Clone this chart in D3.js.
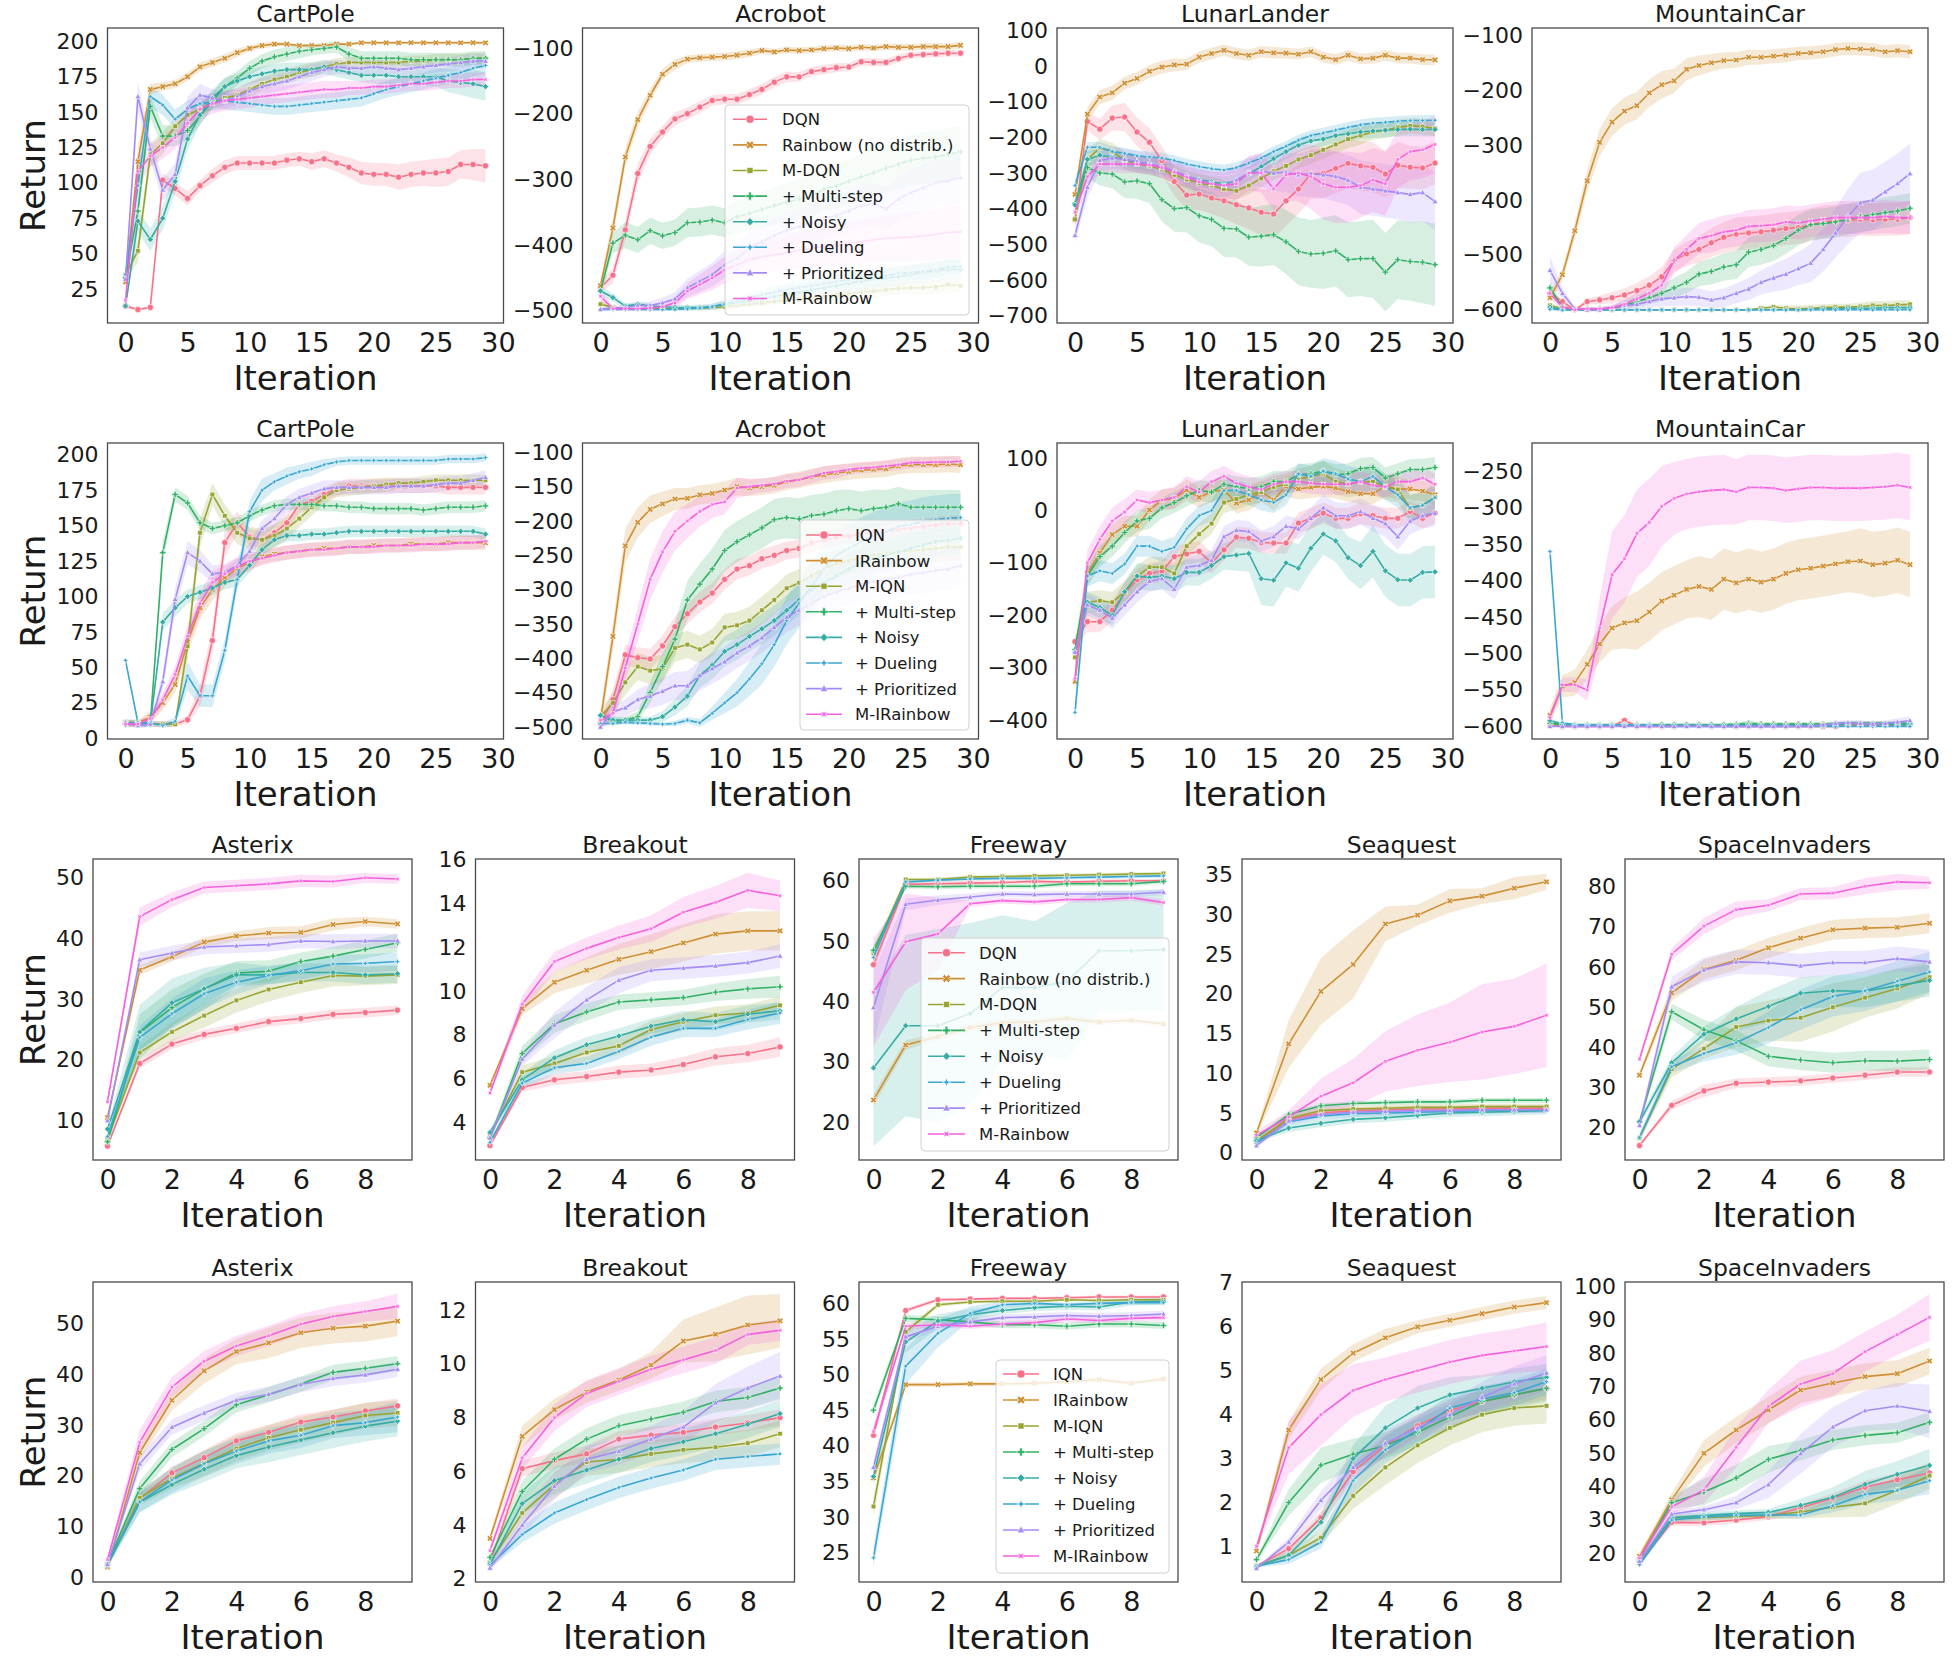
<!DOCTYPE html>
<html><head><meta charset="utf-8">
<script src="https://cdn.jsdelivr.net/npm/d3@7"></script>
<style>
body{margin:0;background:#fff}
svg text{font-family:"DejaVu Sans",sans-serif;fill:#1a1a1a}
</style>
</head><body>
<svg id="fig" width="1956" height="1660"></svg>
<script>
// ---------------- categories ----------------
const seriesDQN = ["DQN","Rainbow (no distrib.)","M-DQN","+ Multi-step","+ Noisy","+ Dueling","+ Prioritized","M-Rainbow"];
const seriesIQN = ["IQN","IRainbow","M-IQN","+ Multi-step","+ Noisy","+ Dueling","+ Prioritized","M-IRainbow"];
const classicEnvs = ["CartPole","Acrobot","LunarLander","MountainCar"];
const atariEnvs = ["Asterix","Breakout","Freeway","Seaquest","SpaceInvaders"];
const classicXTicks = [0,5,10,15,20,25,30];
const atariXTicks = [0,2,4,6,8];

// ---------------- tick labels ----------------
const cartpoleDQNTicks = [25,50,75,100,125,150,175,200];
const acrobotDQNTicks = [-500,-400,-300,-200,-100];
const lunarDQNTicks = [-700,-600,-500,-400,-300,-200,-100,0,100];
const mountainDQNTicks = [-600,-500,-400,-300,-200,-100];
const cartpoleIQNTicks = [0,25,50,75,100,125,150,175,200];
const acrobotIQNTicks = [-500,-450,-400,-350,-300,-250,-200,-150,-100];
const lunarIQNTicks = [-400,-300,-200,-100,0,100];
const mountainIQNTicks = [-600,-550,-500,-450,-400,-350,-300,-250];
const asterixDQNTicks = [10,20,30,40,50];
const breakoutDQNTicks = [4,6,8,10,12,14,16];
const freewayDQNTicks = [20,30,40,50,60];
const seaquestDQNTicks = [0,5,10,15,20,25,30,35];
const invadersDQNTicks = [20,30,40,50,60,70,80];
const asterixIQNTicks = [0,10,20,30,40,50];
const breakoutIQNTicks = [2,4,6,8,10,12];
const freewayIQNTicks = [25,30,35,40,45,50,55,60];
const seaquestIQNTicks = [1,2,3,4,5,6,7];
const invadersIQNTicks = [20,30,40,50,60,70,80,90,100];

// ---------------- series values (mean) ----------------
const cartpoleDQN = [
 [13,10.5,12,102,96,89,98,105,111,114,114,114,114,116,117,115,117,114,111,107,106,106,104,106,107,107,108,113,113,112],
 [30,115,166,168,170,175,182,185,188,192,195,197,198,198,197,197,197,198,198,199,199,199,199,199,199,199,199,199,199,199],
 [35,52,120,128,140,148,152,157,160,162,166,170,173,175,178,180,182,184,185,185,185,185,185,186,186,187,187,187,188,188],
 [33,80,154,133,133,137,147,158,168,174,181,186,189,191,193,194,195,196,191,188,188,188,188,187,187,187,187,187,188,188],
 [13,73,60,75,101,131,148,160,168,172,175,177,179,180,180,180,182,180,178,176,176,176,175,175,175,175,172,171,170,168],
 [35,98,161,155,145,152,156,157,158,157,156,155,154,154,155,156,157,158,159,160,163,166,168,170,172,174,176,178,181,183],
 [32,161,124,95,106,153,162,160,158,161,165,168,170,172,175,178,180,182,181,181,182,181,180,181,182,183,184,185,186,186],
 [17,108,119,125,132,142,152,156,158,159,160,161,162,163,164,165,166,166,167,167,168,168,169,170,170,171,172,172,173,173]
];
const acrobotDQN = [
 [-465,-446,-377,-291,-250,-228,-208,-200,-190,-180,-178,-178,-171,-163,-152,-144,-144,-136,-133,-130,-129,-121,-122,-122,-116,-111,-110,-109,-108,-108],
 [-462,-374,-266,-209,-172,-140,-125,-117,-115,-114,-113,-111,-108,-104,-106,-103,-104,-103,-101,-100,-101,-99,-100,-98,-99,-99,-98,-98,-98,-96],
 [-490,-495,-497,-497,-497,-497,-497,-496,-496,-495,-494,-492,-490,-488,-486,-484,-482,-480,-478,-476,-474,-472,-470,-468,-466,-465,-465,-464,-460,-462],
 [-470,-397,-385,-392,-378,-386,-381,-366,-365,-362,-366,-357,-352,-346,-340,-335,-330,-325,-315,-310,-303,-296,-290,-283,-277,-271,-268,-266,-262,-258],
 [-470,-480,-493,-490,-493,-494,-495,-495,-495,-494,-490,-488,-485,-482,-478,-475,-472,-468,-465,-462,-458,-455,-452,-450,-448,-445,-442,-440,-437,-437],
 [-498,-498,-498,-498,-498,-498,-498,-497,-496,-494,-490,-486,-480,-476,-472,-468,-465,-462,-459,-456,-453,-450,-450,-447,-443,-442,-440,-438,-433,-433],
 [-498,-496,-495,-492,-492,-488,-482,-465,-455,-445,-430,-420,-405,-395,-385,-378,-372,-365,-360,-355,-348,-340,-337,-345,-330,-320,-313,-305,-302,-297],
 [-478,-497,-497,-497,-496,-494,-488,-470,-460,-450,-438,-430,-422,-418,-415,-412,-408,-405,-402,-400,-397,-395,-392,-390,-389,-388,-386,-384,-381,-380]
];
const lunarDQN = [
 [-430,-156,-177,-146,-143,-185,-214,-266,-324,-362,-359,-370,-378,-389,-398,-410,-415,-378,-345,-303,-301,-287,-273,-280,-284,-303,-278,-284,-286,-272],
 [-360,-135,-87,-75,-48,-35,-15,-3,3,5,25,35,44,35,30,40,37,36,33,40,25,18,30,20,22,30,22,22,18,17],
 [-430,-262,-230,-240,-265,-275,-280,-290,-305,-318,-328,-335,-345,-350,-335,-315,-295,-280,-262,-250,-235,-220,-205,-195,-185,-180,-172,-168,-170,-175],
 [-385,-285,-300,-303,-325,-322,-330,-375,-400,-397,-420,-430,-455,-457,-480,-477,-473,-493,-520,-527,-525,-518,-543,-540,-540,-578,-543,-548,-550,-557],
 [-390,-262,-250,-255,-262,-270,-275,-285,-297,-310,-318,-325,-330,-322,-302,-282,-260,-240,-222,-210,-205,-195,-190,-185,-182,-180,-178,-177,-178,-178],
 [-335,-228,-228,-240,-245,-252,-255,-258,-265,-275,-282,-288,-292,-285,-272,-258,-240,-225,-208,-195,-188,-180,-172,-165,-160,-158,-155,-153,-153,-152],
 [-475,-340,-265,-258,-262,-268,-275,-282,-295,-308,-320,-330,-335,-320,-300,-295,-300,-298,-305,-302,-305,-310,-320,-340,-345,-350,-355,-360,-355,-380],
 [-410,-310,-275,-275,-275,-275,-278,-285,-298,-312,-325,-330,-335,-330,-300,-300,-345,-305,-300,-310,-330,-340,-340,-335,-320,-330,-262,-240,-235,-220]
];
const mountainDQN = [
 [-570,-585,-600,-585,-582,-578,-573,-565,-555,-540,-510,-498,-490,-478,-468,-462,-460,-458,-455,-452,-450,-445,-440,-438,-437,-435,-436,-435,-435,-432],
 [-578,-536,-456,-365,-295,-258,-238,-228,-205,-190,-183,-162,-155,-150,-146,-145,-140,-140,-138,-136,-133,-132,-130,-126,-124,-125,-126,-130,-128,-130],
 [-592,-598,-600,-600,-600,-600,-600,-600,-600,-600,-600,-600,-600,-600,-600,-600,-600,-597,-595,-597,-598,-597,-596,-595,-595,-594,-592,-592,-591,-590],
 [-560,-595,-600,-598,-598,-598,-592,-585,-578,-570,-560,-550,-535,-530,-522,-518,-495,-490,-483,-470,-455,-445,-443,-440,-435,-430,-427,-423,-420,-415],
 [-595,-600,-600,-600,-600,-600,-600,-600,-600,-600,-600,-600,-600,-600,-600,-600,-600,-600,-600,-600,-600,-599,-598,-598,-597,-597,-597,-596,-596,-596],
 [-599,-600,-600,-600,-600,-600,-600,-600,-600,-600,-600,-600,-600,-600,-600,-600,-600,-600,-600,-600,-600,-600,-600,-600,-600,-600,-600,-600,-600,-600],
 [-528,-570,-598,-600,-600,-596,-592,-590,-585,-580,-578,-576,-577,-582,-578,-570,-562,-550,-542,-535,-525,-515,-490,-460,-430,-405,-400,-385,-370,-352],
 [-570,-595,-600,-598,-598,-596,-590,-580,-570,-555,-510,-490,-470,-465,-458,-455,-448,-447,-445,-440,-442,-438,-435,-432,-432,-432,-432,-430,-432,-432]
];
const cartpoleIQN = [
 [11,10,10,10,10,13,30,69,138,152,142,140,145,152,165,167,172,176,178,178,178,178,178,178,178,178,177,177,177,177],
 [11,11,15,25,38,68,92,105,113,120,124,128,130,131,132,133,134,134,135,135,136,136,136,137,137,137,138,138,138,138],
 [11,11,10,10,10,65,145,172,157,145,141,140,143,148,155,163,170,175,176,177,178,179,180,180,181,182,182,182,182,182],
 [10,10,10,131,172,166,152,148,150,152,157,161,164,165,165,165,164,164,163,163,162,162,162,162,161,162,163,163,163,164],
 [11,11,10,82,92,100,103,106,110,112,122,133,140,143,143,144,144,145,146,146,146,146,146,146,146,146,146,146,146,144],
 [55,11,11,9,12,44,30,30,62,112,160,175,181,185,188,190,193,195,196,196,196,196,196,196,196,196,197,197,197,198],
 [11,9,10,40,98,131,125,116,117,122,132,148,155,165,170,173,176,177,177,177,177,177,178,178,178,179,180,180,182,184],
 [10,10,14,27,45,72,95,110,116,121,125,127,129,131,132,133,133,134,135,135,135,136,136,136,137,137,137,138,138,139]
];
const acrobotIQN = [
 [-495,-460,-395,-399,-401,-382,-354,-335,-318,-305,-285,-270,-265,-255,-250,-243,-240,-232,-228,-224,-222,-218,-216,-215,-212,-210,-208,-206,-204,-204],
 [-490,-368,-236,-202,-183,-175,-168,-167,-162,-160,-155,-150,-152,-150,-148,-143,-140,-136,-133,-130,-128,-126,-125,-124,-120,-118,-118,-118,-117,-118],
 [-485,-465,-435,-412,-418,-415,-385,-380,-387,-377,-355,-352,-345,-330,-315,-298,-290,-280,-270,-262,-258,-253,-250,-247,-245,-243,-242,-240,-238,-238],
 [-483,-492,-490,-485,-450,-412,-372,-315,-292,-270,-243,-230,-220,-210,-198,-195,-197,-192,-190,-185,-182,-185,-182,-180,-175,-180,-180,-180,-180,-180],
 [-483,-490,-490,-490,-490,-485,-471,-455,-425,-410,-390,-380,-368,-357,-345,-330,-315,-300,-290,-280,-270,-262,-255,-250,-245,-240,-235,-230,-228,-225],
 [-495,-495,-493,-494,-495,-496,-495,-490,-494,-480,-465,-450,-430,-408,-380,-345,-320,-295,-270,-250,-240,-230,-222,-215,-208,-205,-200,-198,-196,-195],
 [-500,-478,-472,-460,-455,-448,-440,-440,-425,-415,-405,-392,-382,-370,-355,-340,-330,-320,-310,-303,-298,-292,-288,-285,-282,-278,-275,-272,-270,-265],
 [-490,-480,-414,-350,-285,-245,-215,-200,-186,-176,-172,-152,-150,-148,-146,-142,-140,-135,-130,-128,-125,-123,-122,-120,-118,-115,-115,-114,-114,-113]
];
const lunarIQN = [
 [-250,-212,-212,-190,-158,-132,-120,-116,-88,-83,-78,-100,-75,-51,-53,-61,-62,-62,-24,-15,-5,-15,-15,-6,-10,-15,-15,-2,-15,-5],
 [-326,-120,-81,-46,-30,-30,1,20,23,39,25,36,39,14,20,36,20,46,41,44,46,43,36,32,32,46,41,41,37,30],
 [-280,-175,-172,-175,-155,-125,-108,-108,-120,-68,-45,-25,15,22,30,35,45,50,60,65,70,55,50,55,55,45,40,5,10,25],
 [-265,-125,-88,-68,-42,-20,-15,5,15,28,38,35,50,45,42,45,55,55,68,70,75,68,70,80,82,62,70,78,78,82],
 [-270,-175,-185,-200,-155,-125,-128,-125,-130,-118,-118,-105,-88,-85,-82,-130,-133,-100,-110,-72,-45,-58,-90,-105,-78,-115,-132,-133,-118,-117],
 [-385,-125,-115,-120,-102,-68,-68,-78,-70,-35,-10,0,38,38,30,20,15,30,70,65,75,70,60,55,65,45,30,5,10,25],
 [-270,-180,-190,-205,-180,-155,-135,-130,-150,-108,-105,-95,-50,-38,-40,-58,-50,-30,-35,-15,5,-10,-10,-2,-15,-25,-50,-20,-10,-5],
 [-320,-100,-55,-20,-3,20,15,20,25,45,35,55,65,52,45,40,50,55,55,52,50,50,50,55,48,45,55,55,62,50]
];
const mountainIQN = [
 [-598,-600,-600,-600,-600,-600,-592,-600,-600,-600,-600,-598,-598,-600,-600,-600,-600,-600,-600,-600,-600,-600,-600,-600,-598,-598,-598,-598,-598,-598],
 [-585,-545,-540,-515,-487,-465,-458,-455,-443,-428,-420,-412,-408,-412,-398,-403,-398,-402,-398,-390,-385,-383,-380,-377,-374,-373,-378,-376,-372,-378],
 [-595,-598,-598,-598,-598,-598,-598,-598,-598,-598,-598,-598,-598,-598,-598,-598,-597,-597,-597,-597,-597,-597,-597,-597,-596,-596,-596,-596,-596,-596],
 [-596,-598,-598,-598,-598,-598,-598,-598,-598,-598,-598,-598,-598,-598,-598,-597,-596,-597,-597,-597,-597,-597,-597,-596,-596,-596,-597,-597,-597,-597],
 [-592,-597,-598,-598,-598,-598,-598,-598,-598,-598,-598,-598,-598,-598,-598,-598,-598,-598,-598,-598,-598,-598,-598,-598,-596,-596,-596,-596,-596,-596],
 [-360,-595,-598,-598,-598,-598,-598,-598,-598,-600,-600,-600,-600,-600,-600,-600,-600,-600,-600,-600,-600,-600,-600,-600,-600,-600,-600,-600,-600,-600],
 [-600,-600,-600,-600,-600,-600,-600,-600,-600,-600,-600,-600,-600,-600,-600,-600,-600,-600,-600,-600,-600,-600,-598,-596,-595,-596,-597,-596,-594,-592],
 [-588,-543,-543,-550,-465,-392,-370,-335,-320,-298,-287,-281,-278,-276,-275,-278,-272,-272,-273,-276,-274,-272,-272,-273,-273,-273,-272,-271,-269,-272]
];
const asterixDQN = [
 [5.8,19.4,22.6,24.2,25.2,26.3,26.8,27.5,27.8,28.2],
 [10.5,34.8,37.0,39.4,40.4,40.9,41.0,42.3,42.8,42.4],
 [7.0,21.2,24.6,27.3,29.8,31.6,32.8,33.9,33.8,34.0],
 [6.5,24.5,28.6,31.7,34.3,34.6,36.2,37.1,38.2,39.3],
 [8.6,24.6,29.4,31.7,34.0,34.0,34.4,34.4,34.0,34.2],
 [7.4,23.7,27.6,30.9,32.8,33.9,34.7,35.8,35.9,36.2],
 [10.0,36.5,37.6,38.6,38.8,39.0,39.6,39.5,39.6,39.6],
 [13.1,43.6,46.4,48.4,48.7,49.0,49.5,49.4,50.0,49.8]
];
const breakoutDQN = [
 [2.95,5.6,5.95,6.1,6.3,6.4,6.65,7.0,7.15,7.45],
 [5.7,9.2,10.4,10.95,11.45,11.8,12.2,12.6,12.75,12.75],
 [3.4,6.3,6.7,7.2,7.5,8.25,8.6,8.9,9.0,9.35],
 [3.3,7.15,8.5,9.05,9.5,9.6,9.7,9.95,10.1,10.2],
 [3.55,5.95,6.95,7.55,7.95,8.4,8.7,8.6,8.95,9.1],
 [3.1,5.8,6.5,6.7,7.25,7.9,8.3,8.3,8.7,9.0],
 [3.3,6.9,8.45,9.6,10.5,10.95,11.05,11.15,11.3,11.6],
 [5.35,9.4,11.35,11.95,12.45,12.85,13.6,14.05,14.6,14.35]
];
const freewayDQN = [
 [46.1,59.4,59.5,59.6,59.7,59.9,59.8,59.9,60.0,60.0],
 [23.7,32.8,34.2,35.7,36.5,36.6,37.2,36.6,36.9,36.3],
 [48.0,60.2,60.2,60.6,60.7,60.8,60.9,61.0,61.1,61.2],
 [48.5,59.1,59.0,59.1,59.1,59.1,59.5,59.5,59.5,59.9],
 [29.0,36.0,36.0,38.0,42.3,42.3,43.3,48.4,48.4,48.6],
 [47.3,59.8,60.1,60.3,60.4,60.4,60.5,60.6,60.7,60.8],
 [39.0,56.1,56.8,57.3,57.8,57.7,57.8,57.8,57.8,58.1],
 [41.5,49.9,51.2,56.2,56.7,56.5,56.9,56.9,57.2,56.4]
];
const seaquestDQN = [
 [1.4,4.2,5.0,5.3,5.4,5.5,5.5,5.6,5.6,5.6],
 [2.5,13.7,20.3,23.7,28.8,29.9,31.7,32.3,33.3,34.1],
 [1.5,4.3,5.3,5.5,5.6,5.7,5.7,5.8,5.8,5.8],
 [1.9,4.8,5.9,6.2,6.3,6.4,6.4,6.6,6.6,6.6],
 [1.5,3.1,3.7,4.2,4.4,4.7,5.0,5.1,5.2,5.3],
 [1.2,3.9,4.6,4.9,5.0,5.1,5.2,5.3,5.4,5.4],
 [0.9,4.0,4.8,5.1,5.2,5.3,5.3,5.4,5.4,5.4],
 [2.2,4.5,7.1,8.8,11.5,12.9,13.9,15.2,15.9,17.3]
];
const invadersDQN = [
 [15.6,25.6,29.2,31.1,31.4,31.7,32.4,33.1,33.9,33.9],
 [33.1,53.6,59.4,61.7,64.8,67.2,69.3,69.7,69.9,70.9],
 [17.5,34.6,39.7,45.1,46.7,47.4,50.0,52.4,54.7,57.5],
 [21.5,48.9,44.4,41.7,37.8,36.9,36.2,36.7,36.6,37.0],
 [21.5,36.2,43.3,47.1,50.2,53.5,54.1,54.0,55.4,56.7],
 [17.6,35.2,38.5,41.2,45.0,49.4,52.7,54.1,56.5,58.8],
 [20.6,55.1,59.3,61.3,61.1,60.3,61.1,61.1,62.1,61.3],
 [37.1,63.2,70.2,74.3,75.4,78.2,78.4,80.1,81.2,81.0]
];
const asterixIQN = [
 [2.5,15.5,20.6,23.6,26.9,28.6,30.6,31.6,32.8,33.8],
 [2.0,24.6,34.9,40.7,44.5,46.2,48.2,49.1,49.5,50.5],
 [2.3,15.7,19.5,22.5,25.4,27.5,29.1,30.5,31.9,32.4],
 [2.8,17.5,25.2,29.3,34.0,36.0,38.1,40.4,41.2,42.1],
 [2.5,14.8,18.3,21.3,24.0,25.7,27.1,28.5,29.8,30.8],
 [2.7,14.9,19.2,22.4,24.9,26.9,28.0,29.9,30.5,31.6],
 [2.6,22.4,29.6,32.4,34.9,36.1,38.0,39.2,39.9,41.0],
 [3.5,26.6,37.5,42.6,45.6,47.6,49.9,51.4,52.4,53.4]
];
const breakoutIQN = [
 [2.6,6.1,6.4,6.65,7.2,7.35,7.45,7.65,7.8,8.0],
 [3.5,7.3,8.3,8.95,9.4,9.95,10.85,11.1,11.45,11.6],
 [2.6,4.45,5.5,6.35,6.45,6.65,6.8,6.9,7.05,7.4],
 [2.8,5.25,6.45,7.2,7.7,7.95,8.2,8.6,8.75,9.1],
 [2.55,4.8,5.65,6.05,6.45,6.85,7.1,7.4,7.75,8.15],
 [2.5,3.65,4.45,4.95,5.4,5.75,6.05,6.45,6.55,6.65],
 [2.4,4.0,5.45,6.45,6.75,7.2,7.65,8.55,9.1,9.55],
 [3.05,6.5,8.0,8.9,9.35,9.8,10.15,10.5,11.1,11.25]
];
const freewayIQN = [
 [41.5,59.0,60.5,60.6,60.7,60.7,60.8,60.9,60.9,60.9],
 [35.5,48.6,48.6,48.7,48.7,48.8,49.0,49.3,48.8,49.4],
 [31.5,56.0,59.8,60.2,60.3,60.3,60.5,60.4,60.5,60.5],
 [45.0,57.9,57.7,57.4,57.0,57.0,56.8,57.1,57.1,56.9],
 [35.7,54.6,57.5,58.4,59.0,59.4,59.6,59.5,60.2,60.3],
 [24.3,51.2,55.8,58.6,59.8,60.0,59.8,60.0,60.1,60.1],
 [37.0,55.3,56.8,57.4,58.0,58.1,58.3,58.2,58.3,58.5],
 [42.0,56.8,57.0,56.8,57.1,57.3,57.8,57.6,57.9,58.0]
];
const seaquestIQN = [
 [0.55,0.95,1.65,2.7,3.3,3.75,4.1,4.3,4.45,4.6],
 [0.9,3.65,4.8,5.4,5.75,6.0,6.15,6.3,6.45,6.55],
 [0.55,0.8,1.2,2.15,2.8,3.3,3.7,4.0,4.15,4.2],
 [0.7,2.0,2.85,3.1,3.3,3.6,3.95,4.3,4.45,4.6],
 [0.55,0.8,1.55,3.0,3.7,4.15,4.45,4.6,4.75,4.85],
 [0.55,0.7,1.1,2.5,3.2,3.65,4.15,4.35,4.5,4.75],
 [0.5,1.1,2.05,2.8,3.35,3.7,4.0,4.4,4.7,4.95],
 [1.0,3.25,4.0,4.55,4.8,5.0,5.2,5.35,5.45,5.55]
];
const invadersIQN = [
 [17.0,29.2,29.1,29.9,30.9,33.6,36.4,39.7,42.0,44.0],
 [19.0,36.0,49.9,56.9,62.9,68.9,71.0,72.9,73.8,77.6],
 [17.5,30.5,30.6,31.0,31.2,32.3,33.7,34.9,38.8,43.2],
 [18.0,35.1,38.3,42.5,48.1,50.8,53.9,55.3,56.1,59.2],
 [17.5,30.6,31.2,31.8,32.2,34.3,36.7,40.6,43.6,46.3],
 [16.5,29.9,30.8,31.3,31.4,31.4,34.2,37.6,38.8,41.7],
 [17.5,31.7,33.0,35.1,40.5,49.8,57.8,62.7,64.1,62.5],
 [18.5,33.9,38.9,51.7,64.0,70.7,73.8,80.4,85.5,90.7]
];

// ---------------- confidence band half-widths ----------------
const cartpoleDQNBand = [
 [2,1,1,5,5,5,4,5,5,5,5,5,5,5,5,6,6,6,7,8,8,8,9,9,9,10,10,10,11,12],
 [5,10,4,3,3,3,3,3,3,3,2,2,2,1,1,1,1,1,1,1,1,1,1,1,1,1,1,1,1,1],
 [4,8,8,8,6,6,5,5,5,5,5,5,5,5,5,5,4,4,4,4,4,4,4,4,4,4,4,4,4,4],
 [4,8,8,8,7,7,6,6,6,5,5,5,5,5,5,4,4,4,5,5,5,5,5,5,5,5,5,5,5,5],
 [3,8,8,8,8,8,7,6,6,5,5,5,5,5,5,5,5,5,5,5,6,6,6,6,6,7,8,9,10,10],
 [4,10,8,7,7,6,6,6,6,6,6,6,6,6,6,6,6,6,6,6,6,6,6,6,6,6,6,6,6,6],
 [4,10,8,8,8,8,8,6,6,6,6,6,6,6,6,6,5,5,5,5,5,5,5,5,5,5,5,5,5,5],
 [3,10,8,8,8,8,8,7,7,7,7,6,6,6,6,6,6,6,5,5,5,5,5,5,5,5,5,5,5,5]
];
const acrobotDQNBand = [
 [8,12,15,15,12,10,10,9,9,8,8,8,8,8,8,8,7,7,7,7,6,6,6,6,6,5,5,5,5,5],
 [10,15,15,12,10,8,8,6,6,6,6,6,6,5,5,5,5,5,5,5,5,5,5,5,5,5,5,5,5,5],
 [5,3,2,2,2,2,2,2,2,3,3,4,4,5,5,6,6,7,7,8,8,8,9,9,9,10,10,10,10,10],
 [10,15,20,20,20,20,20,22,22,22,22,25,25,28,28,30,30,32,32,34,34,35,36,37,38,39,40,40,40,40],
 [8,6,4,4,4,4,4,4,4,5,6,7,8,9,10,11,12,12,13,14,15,15,15,15,15,15,15,15,15,15],
 [2,2,2,2,2,2,2,3,3,4,5,6,7,8,9,10,10,11,11,12,12,12,12,12,12,12,12,12,12,12],
 [2,3,4,5,6,8,10,14,16,18,20,22,24,25,26,27,28,29,30,30,31,32,32,33,34,35,36,37,38,40],
 [10,3,3,3,4,5,8,12,15,18,20,22,24,25,26,27,28,29,30,31,32,33,34,35,36,37,38,39,40,40]
];
const lunarDQNBand = [
 [20,25,30,35,40,40,40,40,40,40,45,45,50,55,60,65,70,70,70,70,70,70,70,70,70,65,65,60,60,60],
 [15,20,20,20,18,18,18,18,18,16,16,16,16,16,16,16,16,15,15,15,15,15,15,15,15,15,15,15,15,15],
 [20,25,25,25,25,25,25,25,25,25,25,25,25,25,25,25,25,25,25,25,25,25,25,25,22,22,22,22,22,22],
 [25,30,35,40,45,50,55,60,65,70,75,75,80,80,80,85,85,90,95,95,100,100,105,105,110,110,110,110,115,115],
 [20,20,20,20,20,20,20,20,20,20,20,20,20,20,20,20,20,20,20,20,20,20,20,20,20,20,20,20,20,20],
 [20,15,15,15,15,15,15,15,15,15,15,15,15,15,15,15,15,15,15,15,15,15,15,15,15,15,15,15,15,15],
 [20,30,30,30,30,30,30,30,30,30,35,35,35,35,40,45,50,55,60,65,65,70,70,75,75,75,75,80,80,80],
 [20,25,25,25,25,25,25,30,30,30,35,35,40,45,50,55,60,70,80,90,100,100,100,90,90,90,80,80,80,80]
];
const mountainDQNBand = [
 [5,5,3,5,8,10,12,14,16,18,20,22,24,26,28,30,30,30,30,30,30,30,30,30,30,30,30,30,30,30],
 [10,10,15,20,25,25,25,25,25,25,22,20,18,16,15,14,14,13,13,13,12,12,12,12,12,12,12,12,12,12],
 [5,3,1,1,1,1,1,1,1,1,1,1,1,1,1,1,2,3,4,5,6,6,6,6,6,7,8,8,8,8],
 [10,5,3,3,3,5,8,10,12,15,18,20,22,24,25,26,27,28,28,28,28,28,28,28,28,28,28,28,28,28],
 [5,3,1,1,1,1,1,1,1,1,1,1,1,1,1,1,1,1,1,1,1,2,2,2,2,3,3,3,3,3],
 [1,1,1,1,1,1,1,1,1,1,1,1,1,1,1,1,1,1,1,1,1,1,1,1,1,1,1,1,1,1],
 [25,10,3,3,3,5,8,10,12,14,15,16,16,16,17,18,20,22,25,28,30,35,40,45,50,55,55,55,55,55],
 [10,5,3,3,3,5,8,12,16,20,24,26,28,30,30,30,30,30,30,30,30,30,30,30,30,30,30,30,30,30]
];
const cartpoleIQNBand = [
 [2,2,2,2,2,3,8,10,10,8,6,6,6,6,6,5,5,5,5,5,5,5,5,5,5,5,5,5,5,5],
 [2,2,4,5,6,8,8,8,6,6,6,5,5,5,5,5,5,5,5,5,5,5,5,5,5,5,5,5,5,5],
 [2,2,2,2,2,10,10,8,8,8,8,8,8,8,6,6,5,5,5,5,5,5,4,4,4,4,4,4,4,4],
 [2,2,2,8,5,5,5,4,4,4,4,4,4,4,4,4,4,4,4,4,4,4,4,4,4,4,4,4,4,4],
 [2,2,2,6,6,5,5,5,5,5,5,5,5,4,4,4,4,4,4,4,4,4,4,4,4,4,4,4,4,4],
 [2,2,2,2,3,10,8,8,8,8,8,8,6,6,5,5,4,3,3,3,3,3,3,3,3,3,3,3,3,3],
 [2,2,2,6,8,8,8,6,6,6,6,6,6,6,6,6,6,5,5,5,5,5,5,5,5,5,5,5,5,5],
 [2,2,4,5,6,8,8,8,6,6,6,5,5,5,5,5,5,5,5,5,5,5,5,5,5,5,5,5,5,5]
];
const acrobotIQNBand = [
 [8,15,15,15,15,15,15,15,15,15,15,15,14,14,14,13,13,13,12,12,12,12,12,12,12,12,12,12,12,12],
 [15,20,25,22,20,18,16,15,14,14,13,13,12,12,12,12,12,12,12,12,12,12,12,12,12,12,12,12,12,12],
 [10,15,18,20,20,20,20,20,20,20,20,20,20,20,20,20,20,20,20,20,20,20,20,20,20,20,20,20,20,20],
 [5,5,5,8,15,20,25,28,30,30,30,30,30,30,30,30,30,30,30,30,28,28,28,25,25,25,25,25,25,25],
 [5,5,5,5,5,8,12,15,18,20,22,22,22,22,22,22,22,22,22,22,22,22,22,22,22,22,22,22,22,22],
 [3,3,3,3,3,3,4,5,6,10,15,20,25,30,32,35,35,35,35,35,35,35,35,35,35,35,35,35,35,35],
 [3,10,12,15,18,20,20,22,22,22,22,22,22,22,22,22,22,22,22,22,25,25,25,28,28,30,30,30,30,30],
 [10,15,20,25,30,30,28,25,22,20,18,15,12,10,10,10,10,10,10,10,8,8,8,8,8,8,8,8,8,8]
];
const lunarIQNBand = [
 [10,20,20,20,20,20,20,20,20,20,20,20,20,20,20,20,20,20,20,20,20,20,20,20,20,20,20,20,20,20],
 [20,20,20,20,20,20,20,20,20,20,20,20,20,20,20,20,20,20,20,20,20,20,20,20,20,20,20,20,20,20],
 [20,20,20,20,20,20,20,20,20,20,20,20,20,20,20,20,20,20,20,20,25,25,25,25,25,25,25,25,25,25],
 [20,20,20,20,20,20,20,20,20,20,20,20,20,20,20,20,20,20,20,20,20,20,20,20,20,20,20,20,20,20],
 [20,20,20,20,20,25,25,25,25,25,25,25,25,30,35,50,50,45,45,45,40,40,40,45,50,50,50,50,50,50],
 [20,20,20,20,20,20,20,20,20,20,20,20,20,20,20,20,20,20,20,20,25,25,25,25,25,25,25,25,25,25],
 [20,20,20,20,20,20,20,20,20,20,20,20,20,20,20,20,20,20,20,20,25,25,25,25,25,25,25,25,25,25],
 [20,25,25,25,25,20,20,20,20,20,20,20,20,20,20,20,20,20,20,20,20,20,20,20,20,20,20,20,20,20]
];
const mountainIQNBand = [
 [2,2,2,2,2,2,4,2,2,2,2,2,2,2,2,2,2,2,2,2,2,2,2,2,2,2,2,2,2,2],
 [10,15,18,20,25,30,35,40,40,40,40,40,42,42,42,42,42,42,42,42,42,42,42,42,42,45,45,45,45,45],
 [3,2,2,2,2,2,2,2,2,2,2,2,2,2,2,2,2,2,2,2,2,2,2,2,3,3,3,3,3,3],
 [3,2,2,2,2,2,2,2,2,2,2,2,2,2,2,3,4,3,3,3,3,3,3,3,3,3,3,3,3,3],
 [3,2,2,2,2,2,2,2,2,2,2,2,2,2,2,2,2,2,2,2,2,2,2,2,3,3,3,3,3,3],
 [2,2,1,1,1,1,1,1,1,1,1,1,1,1,1,1,1,1,1,1,1,1,1,1,1,1,1,1,1,1],
 [1,1,1,1,1,1,1,1,1,1,1,1,1,1,1,1,1,1,1,1,1,1,2,3,4,4,4,4,5,6],
 [5,10,10,15,40,60,60,60,60,55,50,48,48,48,48,45,45,45,45,45,45,45,45,45,45,45,45,45,45,45]
];
const asterixDQNBand = [
 [0.5,0.8,0.8,0.8,0.8,0.8,0.8,0.8,0.8,0.8],
 [0.5,0.8,0.8,0.8,0.8,1.0,1.0,1.0,0.8,0.8],
 [0.5,1.0,1.5,2.0,2.0,2.0,1.8,1.8,1.5,1.5],
 [0.5,3.0,3.0,2.5,2.0,1.8,1.5,1.5,1.5,1.5],
 [0.5,4.5,4.0,3.5,2.0,1.5,1.5,1.5,1.5,1.5],
 [0.5,2.0,2.5,2.5,2.0,1.5,1.5,1.5,1.5,1.5],
 [0.5,1.2,1.2,1.2,1.2,1.2,1.2,1.2,1.2,1.2],
 [0.5,1.5,1.2,1.0,1.0,1.0,1.0,1.0,0.8,0.8]
];
const breakoutDQNBand = [
 [0.1,0.2,0.25,0.25,0.3,0.3,0.35,0.4,0.4,0.45],
 [0.1,0.3,0.5,0.6,0.7,0.8,0.85,0.9,0.9,0.9],
 [0.1,0.3,0.35,0.4,0.4,0.4,0.4,0.4,0.4,0.4],
 [0.15,0.35,0.4,0.4,0.35,0.35,0.35,0.4,0.45,0.5],
 [0.15,0.3,0.35,0.35,0.35,0.35,0.4,0.4,0.4,0.4],
 [0.1,0.3,0.3,0.3,0.35,0.4,0.4,0.4,0.45,0.5],
 [0.1,0.3,0.6,0.6,0.6,0.5,0.5,0.5,0.5,0.55],
 [0.15,0.4,0.45,0.5,0.55,0.6,0.7,0.75,0.8,0.7]
];
const freewayDQNBand = [
 [1,0.5,0.4,0.4,0.3,0.3,0.3,0.3,0.3,0.3],
 [1,0.8,0.6,0.6,0.5,0.5,0.5,0.5,0.5,0.5],
 [1,0.3,0.3,0.3,0.3,0.3,0.3,0.3,0.3,0.3],
 [1,0.4,0.4,0.4,0.4,0.4,0.4,0.4,0.4,0.4],
 [13,15,16,15,12,11,13,10,10,10],
 [1,0.4,0.3,0.3,0.3,0.3,0.3,0.3,0.3,0.3],
 [6,1,0.8,0.6,0.5,0.5,0.5,0.5,0.5,0.5],
 [9,8,6,0.5,0.5,0.5,0.5,0.5,0.5,0.5]
];
const seaquestDQNBand = [
 [0.2,0.4,0.4,0.4,0.4,0.4,0.4,0.4,0.4,0.4],
 [0.3,3,4.2,4.3,2.2,1.3,1.5,1,1.4,1],
 [0.2,0.4,0.4,0.4,0.4,0.4,0.4,0.4,0.4,0.4],
 [0.2,0.4,0.3,0.3,0.3,0.3,0.3,0.3,0.3,0.3],
 [0.2,0.5,0.5,0.5,0.5,0.5,0.5,0.5,0.5,0.5],
 [0.2,0.4,0.4,0.4,0.4,0.4,0.4,0.4,0.4,0.4],
 [0.2,0.4,0.4,0.4,0.4,0.4,0.4,0.4,0.4,0.4],
 [0.5,0.8,2.2,3,3.8,4.5,5,6,6,6.5]
];
const invadersDQNBand = [
 [0.5,1,1.5,1.2,1.2,1.2,1.2,1.2,1.2,1.2],
 [1,2,2.5,2.5,2.5,2.5,2.5,2.5,2.5,2.5],
 [1,2,2.5,5,5,6,6,5,5,4],
 [1,2,2.5,2.5,2.5,2.5,2.5,2.5,2.5,2.5],
 [1,1.5,2,3,4,4,4,4,4,4],
 [1,1.5,2,3,4,5,5,5,5,5],
 [1,2.5,3,3,3,3,3,3,3,3],
 [1,1.5,2,2,1.5,1.5,1.5,2,2,1.5]
];
const asterixIQNBand = [
 [0.5,1,1.2,1.5,1.5,1.5,1.5,1.5,1.5,1.5],
 [0.5,1.5,2,2.5,2.5,3,3,3,3,3],
 [0.5,1.5,2,2.5,2.5,2.5,2.5,2.5,2.5,2.5],
 [0.5,1.5,1.5,1.5,1.5,1.5,1.5,1.5,1.5,1.5],
 [0.5,2,2,2.5,2.5,3,3,3,3,3],
 [0.5,2,2.5,2.5,2.5,2.5,2.5,2.5,2.5,3],
 [0.5,1.5,1.5,1.5,1.5,1.5,1.5,1.5,1.5,1.5],
 [0.5,2.5,2,2,2,2,2,2,2,2.5]
];
const breakoutIQNBand = [
 [0.1,0.3,0.3,0.3,0.3,0.3,0.3,0.3,0.3,0.3],
 [0.15,0.4,0.4,0.4,0.4,0.5,0.8,1.0,1.1,1.0],
 [0.1,0.4,0.5,0.5,0.5,0.5,0.5,0.5,0.5,0.5],
 [0.1,0.4,0.4,0.4,0.4,0.4,0.4,0.4,0.4,0.4],
 [0.1,0.4,0.5,0.5,0.5,0.5,0.5,0.5,0.5,0.5],
 [0.1,0.3,0.4,0.4,0.4,0.4,0.4,0.4,0.4,0.4],
 [0.1,0.4,0.5,0.5,0.5,0.5,0.6,0.7,0.8,0.9],
 [0.15,0.4,0.5,0.5,0.5,0.5,0.5,0.5,0.4,0.4]
];
const freewayIQNBand = [
 [0.5,0.3,0.3,0.2,0.2,0.2,0.2,0.2,0.2,0.2],
 [1,0.3,0.3,0.3,0.3,0.3,0.3,0.3,0.3,0.3],
 [1.5,0.5,0.3,0.2,0.2,0.2,0.2,0.2,0.2,0.2],
 [0.8,0.5,0.5,0.5,0.5,0.5,0.5,0.5,0.5,0.5],
 [1,1.5,1,0.8,0.5,0.5,0.5,0.5,0.5,0.5],
 [1.5,2.5,2,1,0.5,0.3,0.3,0.3,0.3,0.3],
 [1,0.8,0.5,0.5,0.5,0.5,0.5,0.5,0.5,0.5],
 [1,0.5,0.4,0.4,0.4,0.4,0.4,0.4,0.4,0.4]
];
const seaquestIQNBand = [
 [0.03,0.1,0.15,0.2,0.25,0.25,0.25,0.25,0.25,0.25],
 [0.05,0.2,0.25,0.2,0.2,0.15,0.15,0.15,0.15,0.15],
 [0.03,0.1,0.15,0.3,0.4,0.4,0.4,0.4,0.4,0.4],
 [0.05,0.3,0.4,0.35,0.3,0.3,0.3,0.3,0.3,0.3],
 [0.03,0.1,0.2,0.3,0.5,0.5,0.4,0.3,0.3,0.3],
 [0.03,0.1,0.15,0.3,0.3,0.3,0.3,0.3,0.3,0.3],
 [0.03,0.1,0.2,0.3,0.3,0.3,0.3,0.35,0.4,0.4],
 [0.05,0.6,0.7,0.6,0.5,0.5,0.5,0.5,0.5,0.55]
];
const invadersIQNBand = [
 [0.5,1,1,1,1,1,1.5,2,2,2],
 [1,2,4,4,4,4,4,4,4,4],
 [0.5,1,1,1,1,2,3,4,4,4],
 [0.5,2,4,4,4,3,3,3,3,3],
 [0.5,1,1,1,1,2,3,4,4,5],
 [0.5,1,1,1,1,1,2,3,3,4],
 [0.5,1,1,2,4,6,6,6,7,8],
 [0.5,2,4,6,5,7,7,6,6,7]
];

// ---------------- style ----------------
const colors = ["#f77189","#ce9032","#97a431","#32b166","#36ada4","#39a7d0","#a48cf4","#f561dd"];

const svg = d3.select("#fig");
svg.append("rect").attr("width",1956).attr("height",1660).attr("fill","#fff");

function poly(pts){return "M"+pts.map(p=>p[0].toFixed(2)+","+p[1].toFixed(2)).join("L")+"Z";}
function rot(pts,a){const c=Math.cos(a),s=Math.sin(a);return pts.map(([x,y])=>[x*c-y*s,x*s+y*c]);}
function plusPts(a,t){return [[t,-a],[t,-t],[a,-t],[a,t],[t,t],[t,a],[-t,a],[-t,t],[-a,t],[-a,-t],[-t,-t],[-t,-a]];}
function starPts(n,ro,ri,a0){const p=[];for(let i=0;i<2*n;i++){const r=i%2?ri:ro;const a=a0+i*Math.PI/n;p.push([r*Math.sin(a),-r*Math.cos(a)]);}return p;}
function markerPath(k,s){
  switch(k){
    case 0: return `M${s},0A${s},${s} 0 1,1 ${-s},0A${s},${s} 0 1,1 ${s},0Z`;
    case 1: return poly(rot(plusPts(s*1.05,s*0.36),Math.PI/4));
    case 2: {const h=s*0.75;return poly([[-h,-h],[h,-h],[h,h],[-h,h]]);}
    case 3: return poly(plusPts(s,s*0.34));
    case 4: return poly([[0,-s],[s,0],[0,s],[-s,0]]);
    case 5: return poly(starPts(4,s*1.05,s*0.42,0));
    case 6: return poly([[0,-s],[s*0.95,s*0.7],[-s*0.95,s*0.7]]);
    case 7: return poly(starPts(4,s*1.05,s*0.42,Math.PI/4));
  }
}
const MS = 3.1;

// ---------------- layout ----------------
const classicLeft = [107.5,582.5,1057,1532];
const atariLeft = [93,475.5,859,1242,1625];
const panels = [
 {env:classicEnvs[0],names:seriesDQN,m:cartpoleDQN,b:cartpoleDQNBand,yt:cartpoleDQNTicks,yd:[1.0,209.4],left:classicLeft[0],top:28,w:396,h:295,xt:classicXTicks,xd:[-1.45,30.45],ylabel:true},
 {env:classicEnvs[1],names:seriesDQN,m:acrobotDQN,b:acrobotDQNBand,yt:acrobotDQNTicks,yd:[-518.7,-69.6],left:classicLeft[1],top:28,w:396,h:295,xt:classicXTicks,xd:[-1.45,30.45],legend:{x:725,y:105,w:244,h:210,first:119.3,step:25.6,hx0:733,hx1:767,tx:782}},
 {env:classicEnvs[2],names:seriesDQN,m:lunarDQN,b:lunarDQNBand,yt:lunarDQNTicks,yd:[-720.5,106.5],left:classicLeft[2],top:28,w:396,h:295,xt:classicXTicks,xd:[-1.45,30.45]},
 {env:classicEnvs[3],names:seriesDQN,m:mountainDQN,b:mountainDQNBand,yt:mountainDQNTicks,yd:[-624,-86.7],left:classicLeft[3],top:28,w:396,h:295,xt:classicXTicks,xd:[-1.45,30.45]},
 {env:classicEnvs[0],names:seriesIQN,m:cartpoleIQN,b:cartpoleIQNBand,yt:cartpoleIQNTicks,yd:[-0.5,208.3],left:classicLeft[0],top:443,w:396,h:296,xt:classicXTicks,xd:[-1.45,30.45],ylabel:true},
 {env:classicEnvs[1],names:seriesIQN,m:acrobotIQN,b:acrobotIQNBand,yt:acrobotIQNTicks,yd:[-517.5,-86.4],left:classicLeft[1],top:443,w:396,h:296,xt:classicXTicks,xd:[-1.45,30.45],legend:{x:800,y:520,w:169,h:210,first:535,step:25.6,hx0:806,hx1:842,tx:855}},
 {env:classicEnvs[2],names:seriesIQN,m:lunarIQN,b:lunarIQNBand,yt:lunarIQNTicks,yd:[-435.6,128.6],left:classicLeft[2],top:443,w:396,h:296,xt:classicXTicks,xd:[-1.45,30.45]},
 {env:classicEnvs[3],names:seriesIQN,m:mountainIQN,b:mountainIQNBand,yt:mountainIQNTicks,yd:[-617.4,-211],left:classicLeft[3],top:443,w:396,h:296,xt:classicXTicks,xd:[-1.45,30.45]},
 {env:atariEnvs[0],names:seriesDQN,m:asterixDQN,b:asterixDQNBand,yt:asterixDQNTicks,yd:[3.5,53.1],left:atariLeft[0],top:859,w:319,h:301,xt:atariXTicks,xd:[-0.45,9.45],ylabel:true},
 {env:atariEnvs[1],names:seriesDQN,m:breakoutDQN,b:breakoutDQNBand,yt:breakoutDQNTicks,yd:[2.29,16.03],left:atariLeft[1],top:859,w:319,h:301,xt:atariXTicks,xd:[-0.45,9.45]},
 {env:atariEnvs[2],names:seriesDQN,m:freewayDQN,b:freewayDQNBand,yt:freewayDQNTicks,yd:[13.76,63.6],left:atariLeft[2],top:859,w:319,h:301,xt:atariXTicks,xd:[-0.45,9.45],legend:{x:921,y:938,w:248,h:213,first:952.7,step:25.9,hx0:928,hx1:965,tx:979}},
 {env:atariEnvs[3],names:seriesDQN,m:seaquestDQN,b:seaquestDQNBand,yt:seaquestDQNTicks,yd:[-0.92,36.97],left:atariLeft[3],top:859,w:319,h:301,xt:atariXTicks,xd:[-0.45,9.45]},
 {env:atariEnvs[4],names:seriesDQN,m:invadersDQN,b:invadersDQNBand,yt:invadersDQNTicks,yd:[12.0,86.9],left:atariLeft[4],top:859,w:319,h:301,xt:atariXTicks,xd:[-0.45,9.45]},
 {env:atariEnvs[0],names:seriesIQN,m:asterixIQN,b:asterixIQNBand,yt:asterixIQNTicks,yd:[-0.9,58.2],left:atariLeft[0],top:1282,w:319,h:300,xt:atariXTicks,xd:[-0.45,9.45],ylabel:true},
 {env:atariEnvs[1],names:seriesIQN,m:breakoutIQN,b:breakoutIQNBand,yt:breakoutIQNTicks,yd:[1.88,13.05],left:atariLeft[1],top:1282,w:319,h:300,xt:atariXTicks,xd:[-0.45,9.45]},
 {env:atariEnvs[2],names:seriesIQN,m:freewayIQN,b:freewayIQNBand,yt:freewayIQNTicks,yd:[20.9,63.0],left:atariLeft[2],top:1282,w:319,h:300,xt:atariXTicks,xd:[-0.45,9.45],legend:{x:996,y:1360,w:173,h:213,first:1374,step:26,hx0:1003,hx1:1039,tx:1053}},
 {env:atariEnvs[3],names:seriesIQN,m:seaquestIQN,b:seaquestIQNBand,yt:seaquestIQNTicks,yd:[0.19,7.02],left:atariLeft[3],top:1282,w:319,h:300,xt:atariXTicks,xd:[-0.45,9.45]},
 {env:atariEnvs[4],names:seriesIQN,m:invadersIQN,b:invadersIQNBand,yt:invadersIQNTicks,yd:[11.3,101.3],left:atariLeft[4],top:1282,w:319,h:300,xt:atariXTicks,xd:[-0.45,9.45]}
];

const fmt = d3.format("d");

panels.forEach((p,pi)=>{
  const g = svg.append("g");
  const x = d3.scaleLinear().domain(p.xd).range([p.left,p.left+p.w]);
  const y = d3.scaleLinear().domain(p.yd).range([p.top+p.h,p.top]);
  const cid = "clip"+pi;
  g.append("clipPath").attr("id",cid).append("rect")
    .attr("x",p.left).attr("y",p.top).attr("width",p.w).attr("height",p.h);
  const plot = g.append("g").attr("clip-path",`url(#${cid})`);

  // bands (beneath all lines, like matplotlib collections)
  p.m.forEach((vals,k)=>{
    const area = d3.area().x((d,i)=>x(i)).y0((d,i)=>y(d-p.b[k][i])).y1((d,i)=>y(d+p.b[k][i]));
    plot.append("path").attr("d",area(vals)).attr("fill",colors[k]).attr("fill-opacity",0.2).attr("stroke","none");
  });
  // lines + markers
  p.m.forEach((vals,k)=>{
    const line = d3.line().x((d,i)=>x(i)).y(d=>y(d));
    plot.append("path").attr("d",line(vals)).attr("fill","none").attr("stroke",colors[k]).attr("stroke-width",1.6).attr("stroke-linejoin","round");
    plot.selectAll(null).data(vals).enter().append("path")
      .attr("d",markerPath(k,MS))
      .attr("transform",(d,i)=>`translate(${x(i)},${y(d)})`)
      .attr("fill",colors[k]).attr("stroke","#fff").attr("stroke-width",0.6);
  });

  // frame
  g.append("rect").attr("x",p.left).attr("y",p.top).attr("width",p.w).attr("height",p.h)
    .attr("fill","none").attr("stroke","#4a4a4a").attr("stroke-width",1.3);

  // axes (no tick marks, as in seaborn's white style)
  const ya = g.append("g").attr("transform",`translate(${p.left},0)`)
    .call(d3.axisLeft(y).tickValues(p.yt).tickFormat(fmt).tickSize(0).tickPadding(9));
  ya.select(".domain").remove();
  ya.selectAll("line").remove();
  ya.selectAll("text").attr("font-size",22).attr("font-family","DejaVu Sans").attr("fill","#1a1a1a");

  const xa = g.append("g").attr("transform",`translate(0,${p.top+p.h})`)
    .call(d3.axisBottom(x).tickValues(p.xt).tickFormat(fmt).tickSize(0).tickPadding(10));
  xa.select(".domain").remove();
  xa.selectAll("line").remove();
  xa.selectAll("text").attr("font-size",27).attr("font-family","DejaVu Sans").attr("fill","#1a1a1a");

  // title
  g.append("text").attr("x",p.left+p.w/2).attr("y",p.top-6).attr("text-anchor","middle")
    .attr("font-size",23.5).text(p.env);
  // x label
  g.append("text").attr("x",p.left+p.w/2).attr("y",p.top+p.h+67).attr("text-anchor","middle")
    .attr("font-size",34).text("Iteration");
  if(p.ylabel){
    g.append("text").attr("transform",`translate(45,${p.top+p.h/2}) rotate(-90)`).attr("text-anchor","middle")
      .attr("font-size",34).text("Return");
  }
  // legend
  if(p.legend){
    const L = p.legend;
    const lg = svg.append("g");
    lg.append("rect").attr("x",L.x).attr("y",L.y).attr("width",L.w).attr("height",L.h)
      .attr("rx",4).attr("fill","#fff").attr("fill-opacity",0.8).attr("stroke","#d0d0d0").attr("stroke-width",1);
    p.names.forEach((name,k)=>{
      const cy = L.first + k*L.step;
      lg.append("line").attr("x1",L.hx0).attr("x2",L.hx1).attr("y1",cy).attr("y2",cy)
        .attr("stroke",colors[k]).attr("stroke-width",1.6);
      lg.append("path").attr("d",markerPath(k,MS*1.3)).attr("transform",`translate(${(L.hx0+L.hx1)/2},${cy})`)
        .attr("fill",colors[k]).attr("stroke","#fff").attr("stroke-width",0.6);
      lg.append("text").attr("x",L.tx).attr("y",cy).attr("dy","0.36em").attr("font-size",16.5).text(name);
    });
  }
});
</script>
</body></html>
